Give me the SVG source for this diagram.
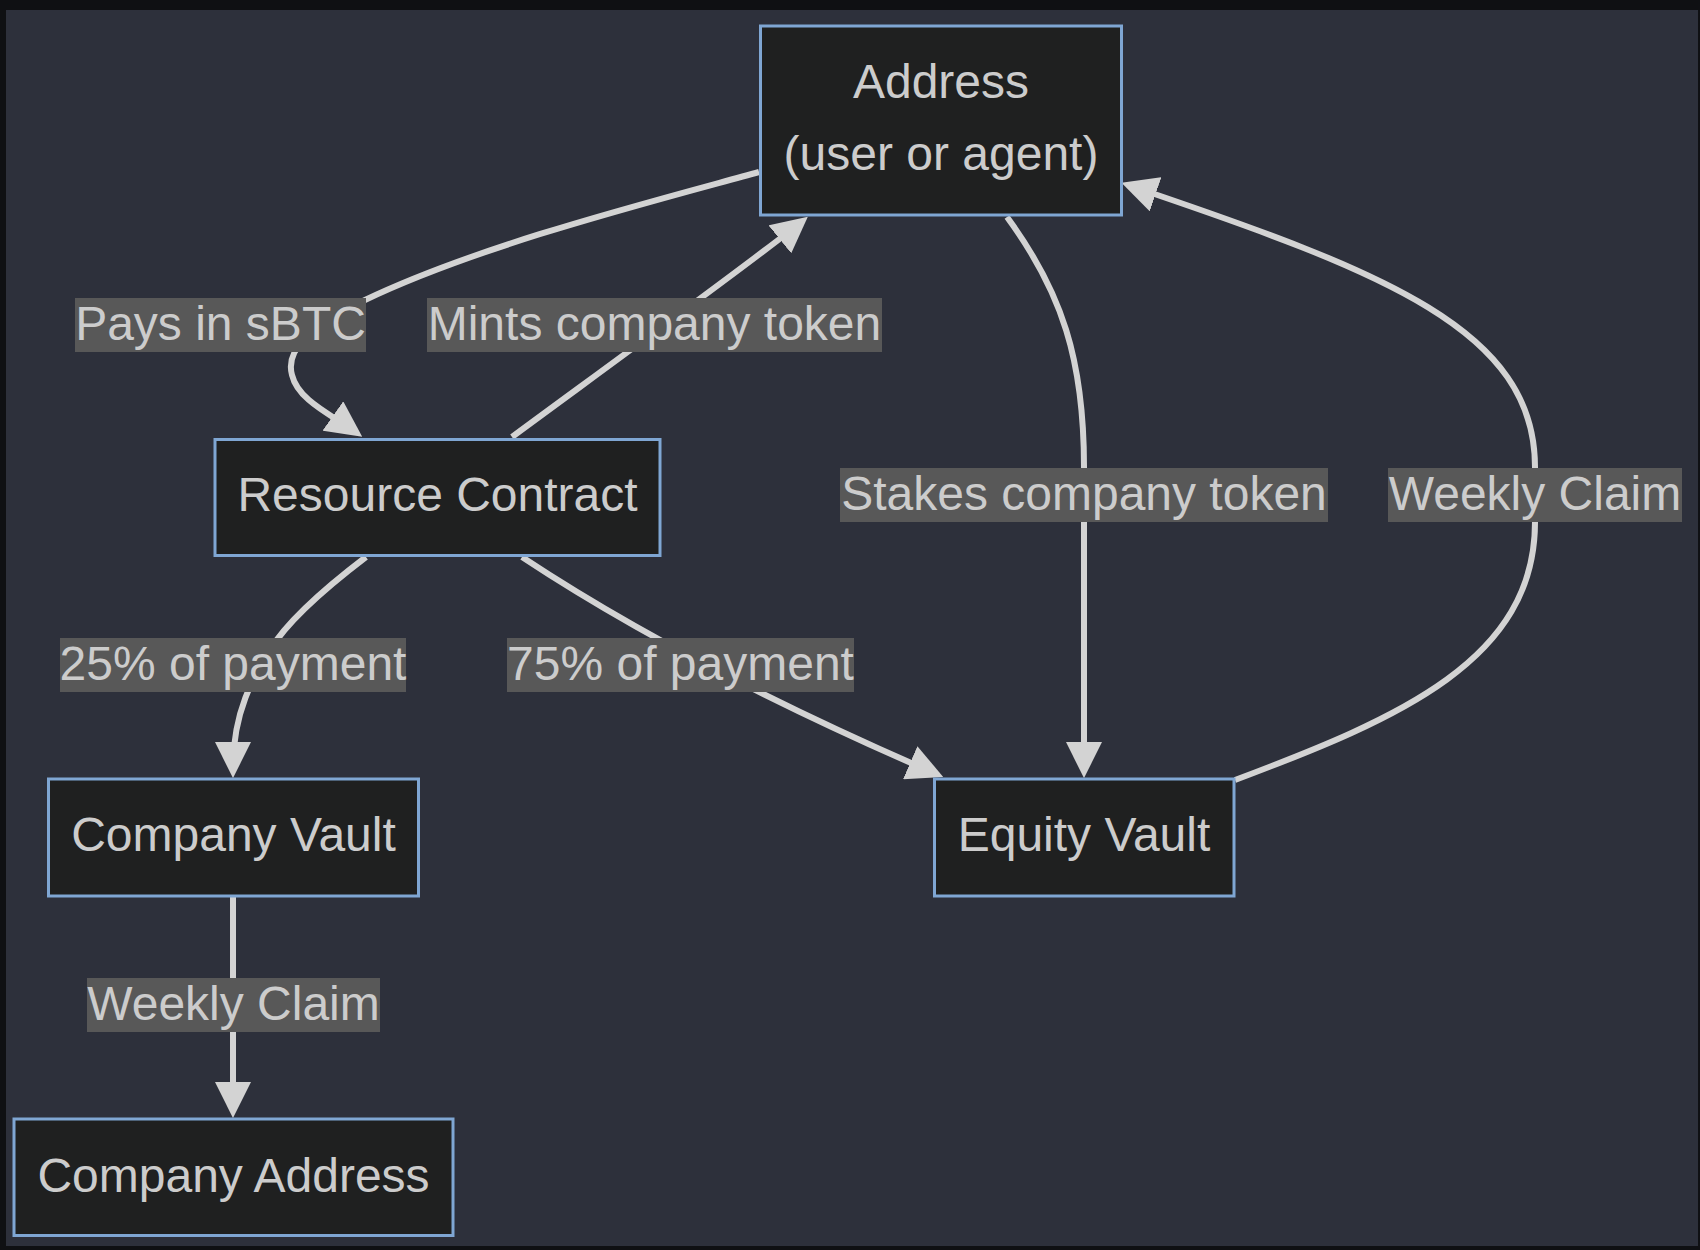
<svg xmlns="http://www.w3.org/2000/svg" width="1700" height="1250" viewBox="0 0 1700 1250">
<defs>
<style>
.node rect{fill:#1f2020;stroke:#7fa6d3;stroke-width:3}
.node text{font-family:"Liberation Sans",Arial,sans-serif;font-size:48px;fill:#cccccc;text-anchor:middle}
.edge{fill:none;stroke:#d3d3d3;stroke-width:6}
.lbl rect{fill:#585858}
.lbl text{font-family:"Liberation Sans",Arial,sans-serif;font-size:48px;fill:#cccccc;text-anchor:middle}
</style>
<marker id="arrow" viewBox="0 0 10 10" refX="7.2" refY="5" markerUnits="userSpaceOnUse" markerWidth="36" markerHeight="36" orient="auto">
<path d="M0,0 L10,5 L0,10 z" fill="#d3d3d3"/>
</marker>
</defs>
<rect x="0" y="0" width="1700" height="1250" fill="#0f1013"/>
<rect x="6" y="10" width="1692" height="1236" fill="#2d303b"/>

<g id="connectors">
<path id="e-pays" class="edge" marker-end="url(#arrow)" d="M759,172 C650,202 480,245 365,300 C310,326 285,350 292,375 C298,400 330,414 354,431"/>
<path id="e-mints" class="edge" marker-end="url(#arrow)" d="M512,437 C570,394 752,262 800,223"/>
<path id="e-stakes" class="edge" marker-end="url(#arrow)" d="M1007,217 C1062,292 1084,360 1084,467 L1084,768"/>
<path id="e-weekly-r" class="edge" marker-end="url(#arrow)" d="M1235,780 C1400,718 1535,660 1535,522 L1535,467 C1535,330 1385,272 1131,186"/>
<path id="e-25" class="edge" marker-end="url(#arrow)" d="M366,557 C320,592 285,625 270,650 C255,675 233,710 233,768"/>
<path id="e-75" class="edge" marker-end="url(#arrow)" d="M522,557 C590,602 715,678 934,773"/>
<path id="e-weekly-b" class="edge" marker-end="url(#arrow)" d="M233,896 L233,1108"/>

<g class="lbl"><rect x="75" y="298" width="291" height="54"/><text x="220.5" y="340">Pays in sBTC</text></g>
<g class="lbl"><rect x="427" y="298" width="455" height="54"/><text x="654.5" y="340">Mints company token</text></g>
<g class="lbl"><rect x="840" y="468" width="488" height="54"/><text x="1084" y="510">Stakes company token</text></g>
<g class="lbl"><rect x="1388" y="468" width="294" height="54"/><text x="1535" y="510">Weekly Claim</text></g>
<g class="lbl"><rect x="60" y="638" width="346" height="54"/><text x="233" y="680">25% of payment</text></g>
<g class="lbl"><rect x="507" y="638" width="347" height="54"/><text x="680.5" y="680">75% of payment</text></g>
<g class="lbl"><rect x="87" y="978" width="293" height="54"/><text x="233.5" y="1020">Weekly Claim</text></g>
</g>

<g id="address" class="node">
<rect x="760.5" y="26" width="361" height="189"/>
<text x="941" y="98">Address</text>
<text x="941" y="170">(user or agent)</text>
</g>
<g id="resource-contract" class="node">
<rect x="215" y="439.5" width="445" height="116"/>
<text x="437.5" y="511">Resource Contract</text>
</g>
<g id="company-vault" class="node">
<rect x="48.5" y="779" width="370" height="117"/>
<text x="233.5" y="851">Company Vault</text>
</g>
<g id="equity-vault" class="node">
<rect x="934.5" y="779" width="299.5" height="117"/>
<text x="1084" y="851">Equity Vault</text>
</g>
<g id="company-address" class="node">
<rect x="14" y="1119" width="439" height="116.5"/>
<text x="233.5" y="1192">Company Address</text>
</g>
</svg>
